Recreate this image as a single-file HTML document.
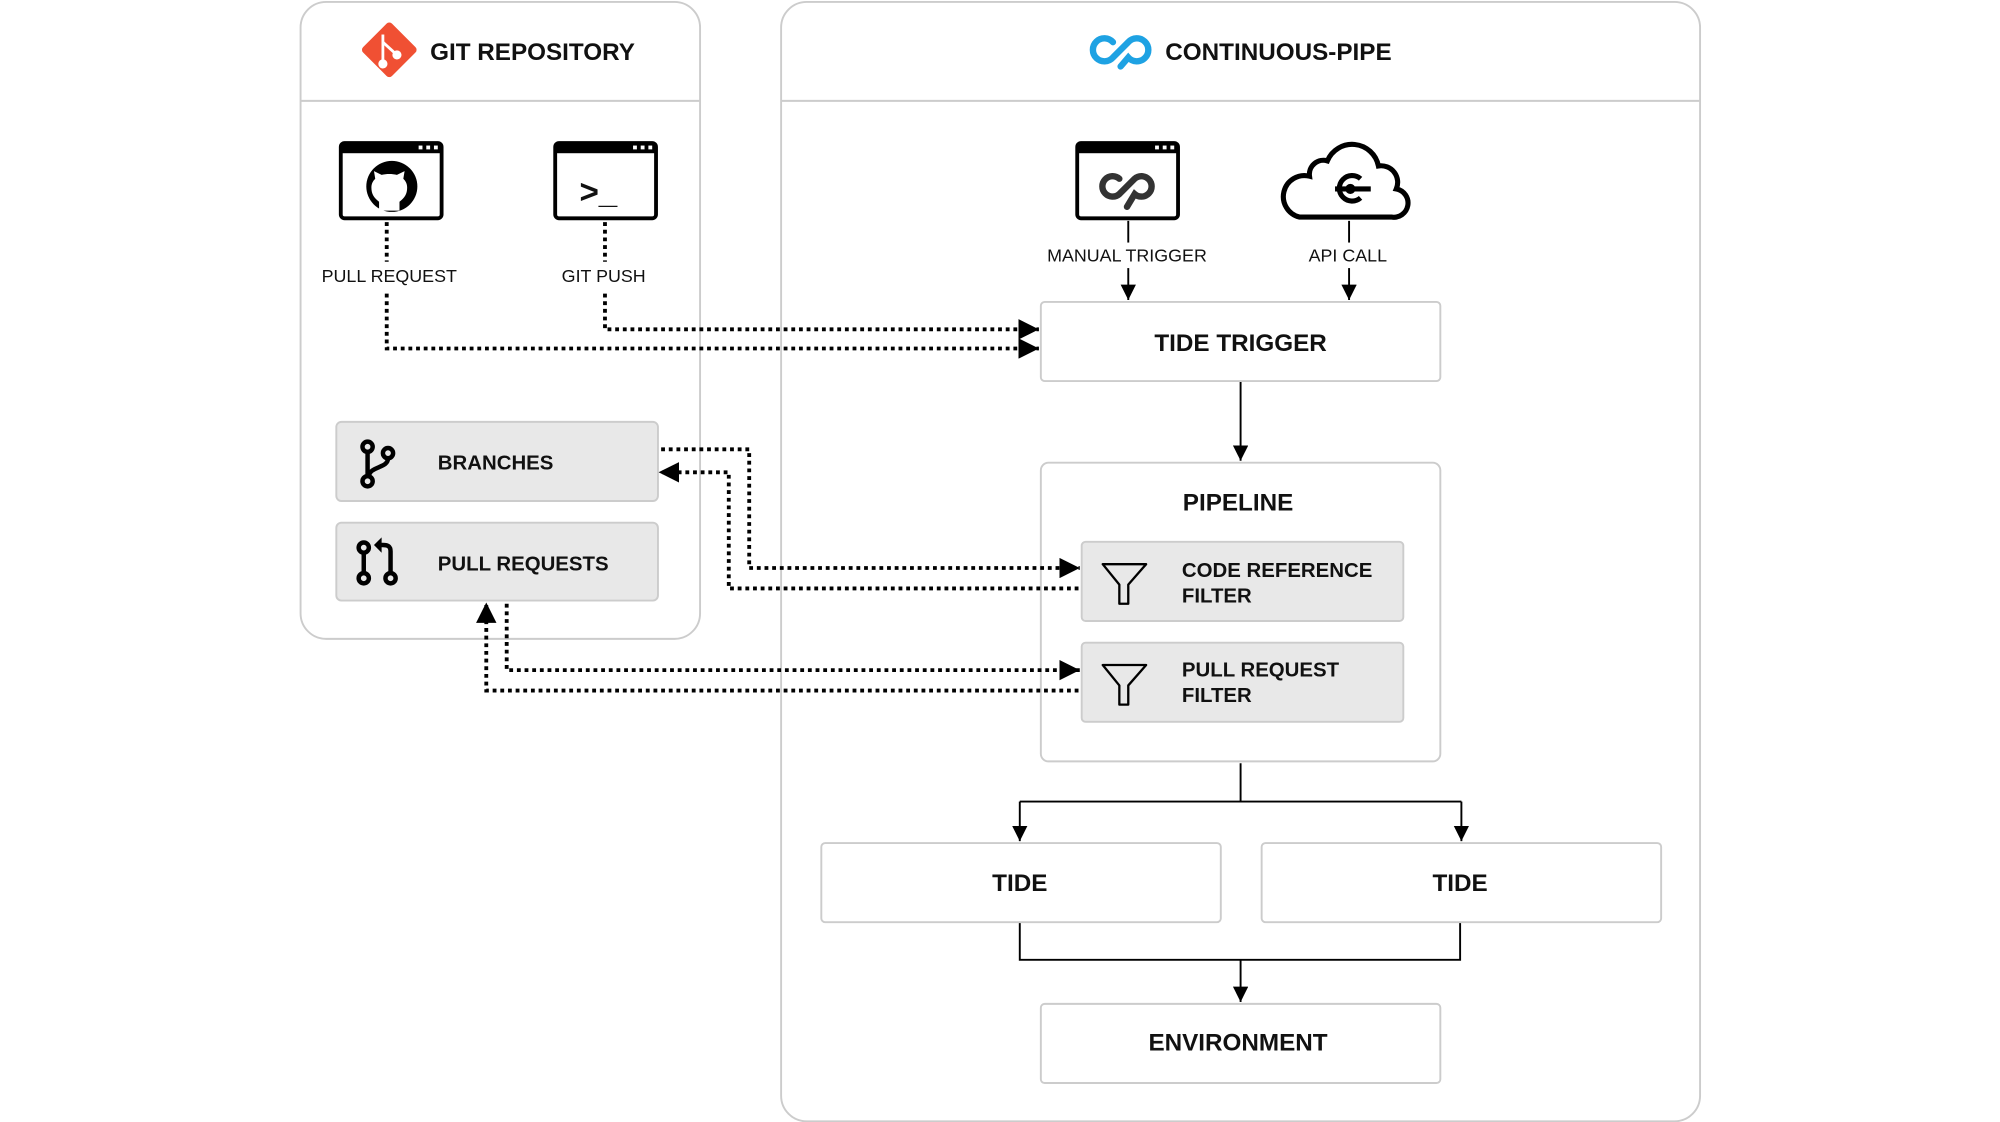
<!DOCTYPE html>
<html><head><meta charset="utf-8"><style>
html,body{margin:0;padding:0;background:#fff;}
svg{display:block;}
text{font-family:"Liberation Sans",Arial,sans-serif;fill:#111;}
.b{font-weight:bold;}
</style></head><body>
<svg width="2000" height="1122" viewBox="0 0 1567 879" xmlns="http://www.w3.org/2000/svg">
<defs>
<marker id="arb" viewBox="0 0 10 10" refX="10" refY="5" markerWidth="16" markerHeight="16" orient="auto" markerUnits="userSpaceOnUse"><path d="M0,0L10,5L0,10z" fill="#000"/></marker>
<marker id="ars" viewBox="0 0 10 10" refX="10" refY="5" markerWidth="12" markerHeight="12" orient="auto" markerUnits="userSpaceOnUse"><path d="M0,0L10,5L0,10z" fill="#000"/></marker>
</defs>
<!-- containers -->
<rect x="235.5" y="1.5" width="313" height="499" rx="20" fill="#fff" stroke="#ccc" stroke-width="1.5"/>
<line x1="236" y1="79" x2="548" y2="79" stroke="#ccc" stroke-width="1.5"/>
<rect x="612" y="1.5" width="720" height="877" rx="20" fill="#fff" stroke="#ccc" stroke-width="1.5"/>
<line x1="612" y1="79" x2="1332" y2="79" stroke="#ccc" stroke-width="1.5"/>
<!-- git logo -->
<g transform="translate(305,39) rotate(45)"><rect x="-16" y="-16" width="32" height="32" rx="3" fill="#f05033"/></g>
<g stroke="#fff" stroke-width="2.2" fill="#fff"><line x1="300" y1="27" x2="300" y2="50"/><line x1="300" y1="33" x2="311" y2="43"/><circle cx="300" cy="50" r="2.5"/><circle cx="311" cy="43" r="2.5"/></g>
<text x="337" y="47" class="b" font-size="19">GIT REPOSITORY</text>
<!-- cp logo -->
<g fill="none" stroke="#1ea2e3" stroke-width="5" stroke-linecap="round"><path d="M872,33 a9,9 0 1 0 0,12 L884,33 a9,9 0 1 1 0,12 L878,52"/></g>
<text x="913" y="47" class="b" font-size="19">CONTINUOUS-PIPE</text>
<!-- window icons -->
<g fill="#fff" stroke="#000" stroke-width="3">
<rect x="267" y="112" width="79" height="59" rx="3"/><rect x="435" y="112" width="79" height="59" rx="3"/><rect x="844" y="112" width="79" height="59" rx="3"/></g>
<g fill="#000"><rect x="267" y="112" width="79" height="8"/><rect x="435" y="112" width="79" height="8"/><rect x="844" y="112" width="79" height="8"/></g>
<g fill="#fff"><rect x="328" y="114" width="3" height="3"/><rect x="334" y="114" width="3" height="3"/><rect x="340" y="114" width="3" height="3"/><rect x="496" y="114" width="3" height="3"/><rect x="502" y="114" width="3" height="3"/><rect x="508" y="114" width="3" height="3"/><rect x="905" y="114" width="3" height="3"/><rect x="911" y="114" width="3" height="3"/><rect x="917" y="114" width="3" height="3"/></g>
<circle cx="307" cy="146" r="20" fill="#000"/>
<path d="M297,165 v-7 c-4,-3 -6,-6 -6,-11 c0,-3 1,-5 3,-7 l-1,-6 l6,3 c4,-1 8,-1 12,0 l6,-3 l-1,6 c2,2 3,4 3,7 c0,5 -2,8 -6,11 v7z" fill="#fff"/>
<text x="454" y="159" class="b" font-size="26">&gt;_</text>
<g fill="none" stroke="#333" stroke-width="5" stroke-linecap="round"><path d="M877,140 a8,8 0 1 0 0,12 L889,140 a8,8 0 1 1 0,12 L883,162"/></g>
<!-- cloud -->
<path d="M1018,170 h72 a11,11 0 0 0 4,-22 a13,13 0 0 0 -14,-18 a21,21 0 0 0 -40,-4 a11,11 0 0 0 -14,12 a13,13 0 0 0 -8,32z" fill="#fff" stroke="#000" stroke-width="4"/>
<path d="M1066,140 a10,10 0 1 0 0,15" fill="none" stroke="#000" stroke-width="4"/>
<line x1="1046" y1="148" x2="1074" y2="148" stroke="#000" stroke-width="4"/><circle cx="1058" cy="148" r="4" fill="#000"/>
<!-- labels -->
<text x="305" y="221" font-size="14" text-anchor="middle">PULL REQUEST</text>
<text x="473" y="221" font-size="14" text-anchor="middle">GIT PUSH</text>
<!-- triggers -->
<g stroke="#000" stroke-width="1.5" fill="none">
<line x1="884" y1="173" x2="884" y2="190"/><line x1="884" y1="210" x2="884" y2="235" marker-end="url(#ars)"/>
<line x1="1057" y1="173" x2="1057" y2="190"/><line x1="1057" y1="210" x2="1057" y2="235" marker-end="url(#ars)"/>
<line x1="972" y1="299" x2="972" y2="361" marker-end="url(#ars)"/>
<path d="M972,598 V628 M799,628 H1145"/>
<line x1="799" y1="628" x2="799" y2="659" marker-end="url(#ars)"/>
<line x1="1145" y1="628" x2="1145" y2="659" marker-end="url(#ars)"/>
<path d="M799,723 V752 H1144 V723"/>
<line x1="972" y1="752" x2="972" y2="785" marker-end="url(#ars)"/>
</g>
<text x="883" y="205" font-size="14" text-anchor="middle">MANUAL TRIGGER</text>
<text x="1056" y="205" font-size="14" text-anchor="middle">API CALL</text>
<!-- boxes -->
<g fill="#fff" stroke="#ccc" stroke-width="1.5">
<rect x="815.5" y="236.5" width="313" height="62" rx="3"/>
<rect x="815.5" y="362.5" width="313" height="234" rx="6"/>
<rect x="643.5" y="660.5" width="313" height="62" rx="3"/>
<rect x="988.5" y="660.5" width="313" height="62" rx="3"/>
<rect x="815.5" y="786.5" width="313" height="62" rx="3"/>
</g>
<g fill="#e8e8e8" stroke="#ccc" stroke-width="1.5">
<rect x="847.5" y="424.5" width="252" height="62" rx="3"/>
<rect x="847.5" y="503.5" width="252" height="62" rx="3"/>
<rect x="263.5" y="330.5" width="252" height="62" rx="4"/>
<rect x="263.5" y="409.5" width="252" height="61" rx="4"/>
</g>
<!-- dotted connectors -->
<g fill="none" stroke="#000" stroke-width="3" stroke-dasharray="3 3">
<path d="M303,174 V205"/><path d="M303,230 V273 H814" marker-end="url(#arb)"/>
<path d="M474,174 V205"/><path d="M474,230 V258 H814" marker-end="url(#arb)"/>
<path d="M518,352 H587 V445 H846" marker-end="url(#arb)"/>
<path d="M845,461 H571 V370 H516" marker-end="url(#arb)"/>
<path d="M397,473 V525 H846" marker-end="url(#arb)"/>
<path d="M845,541 H381 V472" marker-end="url(#arb)"/>
</g>
<text x="972" y="275" class="b" font-size="19" text-anchor="middle">TIDE TRIGGER</text>
<text x="970" y="400" class="b" font-size="19" text-anchor="middle">PIPELINE</text>
<text x="799" y="698" class="b" font-size="19" text-anchor="middle">TIDE</text>
<text x="1144" y="698" class="b" font-size="19" text-anchor="middle">TIDE</text>
<text x="970" y="823" class="b" font-size="19" text-anchor="middle">ENVIRONMENT</text>
<text x="926" y="452" class="b" font-size="16">CODE REFERENCE</text>
<text x="926" y="472" class="b" font-size="16">FILTER</text>
<text x="926" y="530" class="b" font-size="16">PULL REQUEST</text>
<text x="926" y="550" class="b" font-size="16">FILTER</text>
<text x="343" y="368" class="b" font-size="16">BRANCHES</text>
<text x="343" y="447" class="b" font-size="16">PULL REQUESTS</text>
<!-- funnels -->
<g fill="none" stroke="#000" stroke-width="1.8" stroke-linejoin="round">
<path d="M864,442 H898 L884,458 V473 H877 V458z"/>
<path d="M864,521 H898 L884,537 V552 H877 V537z"/>
</g>
<!-- branch icon -->
<g fill="none" stroke="#000" stroke-width="3.5">
<circle cx="288" cy="350" r="4"/><circle cx="304" cy="355" r="4"/><circle cx="288" cy="377" r="4"/>
<path d="M288,354 V373 M304,359 c0,8 -14,6 -15,14"/>
<circle cx="285" cy="429" r="4"/><circle cx="285" cy="453" r="4"/><circle cx="306" cy="453" r="4"/>
<path d="M285,433 V449 M306,449 V432 c0,-4 -2,-5 -6,-5 h-2"/>
</g>
<path d="M293,427 l6,-6 v12z" fill="#000"/>
</svg>
</body></html>
